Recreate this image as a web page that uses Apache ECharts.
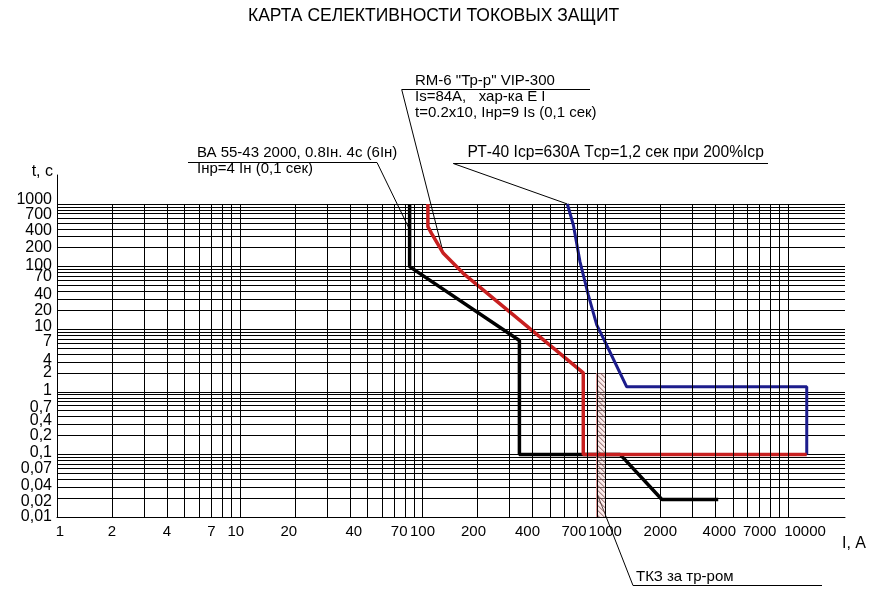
<!DOCTYPE html>
<html><head><meta charset="utf-8">
<script src="https://cdn.jsdelivr.net/npm/echarts@6/dist/echarts.min.js"></script>
<style>html,body{margin:0;padding:0;background:#fff}#c{width:887px;height:599px}</style>
</head><body><div id="c"></div>
<script>
// ---- grid / tick data ----
const gridMantissas = [1,2,3,4,5,6,7,8,9];
const currentDecades = [1,10,100,1000];
const timeDecades = [0.01,0.1,1,10,100];
const currentLabels = [1,2,4,7,10,20,40,70,100,200,400,700,1000,2000,4000,7000,10000];
const timeLabels = [0.01,0.02,0.04,0.07,0.1,0.2,0.4,0.7,1,2,4,7,10,20,40,70,100,200,400,700,1000];

// ---- curves (I, A ; t, s) ----
const vaCurrent = [85,85,339,339,1205,2040,4150];
const vaTime    = [1000,100,6.6,0.1,0.1,0.019,0.019];
const rmCurrent = [107,107,112,130,167,758,758,12660];
const rmTime    = [1000,434,340,163,78,2,0.1,0.1];
const rtCurrent = [620,669,727,808,898,997,1310,12660,12660];
const rtTime    = [1000,462,120,35,11.7,6.3,1.2,1.2,0.1];
const tkzCurrent = [900,1000];
const tkzTime    = [0.01,2];

// ---- styling ----
const FONT = '"Liberation Sans", Arial, sans-serif';
// label nudges in px (hand-placed labels in the original drawing)
const nudgeX = {1:3, 10:-4, 20:-6, 40:4, 70:5, 200:-4, 400:-5, 700:-3, 4000:4, 10000:17};
const nudgeY = {1000:-4, 700:1, 400:2, 100:-1, 40:3, 10:-3, 7:3, 4:6, 1:-1, 0.7:6, 0.4:4, 0.1:-2, 0.07:4, 0.04:6, 0.02:3};

const xGrid = []; currentDecades.forEach(d => gridMantissas.forEach(m => xGrid.push(+(d*m).toPrecision(6)))); xGrid.push(10000);
const yGrid = []; timeDecades.forEach(d => gridMantissas.forEach(m => yGrid.push(+(d*m).toPrecision(6)))); yGrid.push(1000);
const zip = (a,b) => a.map((v,i) => [v,b[i]]);

const richX = {}, richY = {};
currentLabels.forEach((v,i) => {
  const d = nudgeX[v] || 0;
  richX['x'+i] = {fontSize: 15, lineHeight: 15, color: '#000', fontFamily: FONT, padding: [0,-d,0,d]};
});
timeLabels.forEach((v,i) => {
  const d = nudgeY[v] || 0;
  richY['y'+i] = {fontSize: 16, lineHeight: 14, color: '#000', fontFamily: FONT, padding: [d,0,-d,0]};
});
const fmtX = v => { const i = currentLabels.findIndex(c => Math.abs(c - v) < 1e-9 * c); return '{x'+i+'|'+v+'}'; };
const fmtY = v => { const i = timeLabels.findIndex(c => Math.abs(c - v) < 1e-9 * c); return '{y'+i+'|'+String(v).replace('.', ',')+'}'; };
// labels are split over two overlaid axes (even / odd) so close neighbours are never auto-hidden
const evenOdd = (arr, p) => arr.filter((v,i) => i % 2 === p);

const X_RANGE = {min: 1, max: 20500};
const Y_RANGE = {min: 0.01, max: 2905};
const xLabelStyle = vals => ({customValues: vals, hideOverlap: false, showMinLabel: true, showMaxLabel: true,
  fontSize: 15, color: '#000', margin: 7, formatter: fmtX, rich: richX, fontFamily: FONT});
const yLabelStyle = vals => ({customValues: vals, hideOverlap: false, showMinLabel: true, showMaxLabel: true,
  fontSize: 16, color: '#000', margin: 5, formatter: fmtY, rich: richY, fontFamily: FONT});

const chart = echarts.init(document.getElementById('c'));
chart.setOption({
  animation: false,
  backgroundColor: '#fff',
  textStyle: {fontFamily: FONT},
  title: {text: 'КАРТА СЕЛЕКТИВНОСТИ ТОКОВЫХ ЗАЩИТ', left: 243, top: 2,
    textStyle: {fontSize: 17.5, fontWeight: 'normal', color: '#000', fontFamily: FONT}},
  grid: {left: 57, right: 42, top: 175, bottom: 82},
  xAxis: [{
    type: 'log', logBase: 10, min: X_RANGE.min, max: X_RANGE.max, position: 'bottom',
    name: 'I, A', nameLocation: 'end', nameGap: -3,
    nameTextStyle: {fontSize: 16, color: '#000', align: 'left', verticalAlign: 'top', padding: [19,0,0,0], fontFamily: FONT},
    axisLine: {show: true, lineStyle: {color: '#000', width: 1}},
    axisTick: {show: false}, minorTick: {show: false},
    axisLabel: xLabelStyle(evenOdd(currentLabels, 0)),
    splitLine: {show: false}
  }, {
    type: 'log', logBase: 10, min: X_RANGE.min, max: X_RANGE.max, position: 'bottom', offset: 0,
    axisLine: {show: false}, axisTick: {show: false}, minorTick: {show: false},
    axisLabel: xLabelStyle(evenOdd(currentLabels, 1)),
    splitLine: {show: false}
  }],
  yAxis: [{
    type: 'log', logBase: 10, min: Y_RANGE.min, max: Y_RANGE.max, position: 'left',
    name: 't, с', nameLocation: 'end', nameGap: 3,
    nameTextStyle: {fontSize: 16, color: '#000', align: 'right', verticalAlign: 'middle', padding: [0,4,0,0], fontFamily: FONT},
    axisLine: {show: true, lineStyle: {color: '#000', width: 1}},
    axisTick: {show: false, customValues: yGrid}, minorTick: {show: false},
    axisLabel: yLabelStyle(evenOdd(timeLabels, 0)),
    splitLine: {show: true, lineStyle: {color: '#000', width: 1}}
  }, {
    type: 'log', logBase: 10, min: Y_RANGE.min, max: Y_RANGE.max, position: 'left', offset: 0,
    axisLine: {show: false}, axisTick: {show: false}, minorTick: {show: false},
    axisLabel: yLabelStyle(evenOdd(timeLabels, 1)),
    splitLine: {show: false}
  }],
  series: [
    {
      type: 'line', data: [], z: 1, silent: true,
      markLine: {
        silent: true, symbol: ['none','none'], label: {show: false}, emphasis: {disabled: true},
        lineStyle: {color: '#000', width: 1, type: 'solid'},
        data: xGrid.map(v => [{coord: [v, 0.01]}, {coord: [v, 1000]}])
      }
    },
    {
      type: 'custom', z: 2, silent: true,
      data: [[tkzCurrent[0], tkzCurrent[1], tkzTime[0], tkzTime[1]]],
      encode: {x: [0,1], y: [2,3]},
      renderItem: function (params, api) {
        const a = api.coord([api.value(0), api.value(3)]);
        const b = api.coord([api.value(1), api.value(2)]);
        const x = a[0], y = a[1], w = b[0]-a[0], h = b[1]-a[1];
        const children = [{type: 'rect', shape: {x: x, y: y, width: w, height: h}, style: {fill: 'rgba(245,200,200,0.35)'}}];
        for (let k = -w; k < h; k += 5) {
          const s0 = Math.max(0, -k), s1 = Math.min(w, h - k);
          if (s1 <= s0) continue;
          children.push({type: 'line', shape: {x1: x+s0, y1: y+k+s0, x2: x+s1, y2: y+k+s1}, style: {stroke: '#6a3434', lineWidth: 0.8}});
        }
        children.push({type: 'line', shape: {x1: x, y1: y, x2: x, y2: y+h}, style: {stroke: '#e08888', lineWidth: 1.5}});
        return {type: 'group', children: children};
      }
    },
    {type: 'line', name: 'ВА 55-43', data: zip(vaCurrent, vaTime), symbol: 'none', z: 3,
     lineStyle: {color: '#000', width: 3.5}},
    {type: 'line', name: 'РТ-40', data: zip(rtCurrent, rtTime), symbol: 'none', z: 3,
     lineStyle: {color: '#1c1c8c', width: 3}},
    {type: 'line', name: 'RM-6', data: zip(rmCurrent, rmTime), symbol: 'none', z: 4,
     lineStyle: {color: '#c82020', width: 3.5}}
  ]
});

const px = p => chart.convertToPixel({gridIndex: 0}, p);
const T = (x, y, s, fs) => ({type: 'text', x: x, y: y, silent: true,
  style: {text: s, fontSize: fs || 15, fontFamily: FONT, fill: '#000', align: 'left', verticalAlign: 'middle'}});
const L = pts => ({type: 'polyline', silent: true, shape: {points: pts}, style: {stroke: '#000', lineWidth: 1, fill: null}});

chart.setOption({
  graphic: [
    L([[188,162.5],[377,162.5], px([85, 390])]),
    T(197, 153, 'ВА 55-43 2000, 0.8Iн. 4с (6Iн)'),
    T(197, 169, 'Iнр=4 Iн (0,1 сек)'),
    L([[590,89.5],[401.7,89.5], px([130, 163])]),
    T(415, 80.5, 'RM-6 "Тр-р" VIP-300'),
    T(415, 97, 'Is=84A,   хар-ка E I'),
    T(415, 113, 't=0.2x10, Iнр=9 Is (0,1 сек)'),
    L([[768,163.5],[453.3,163.5], px([620, 1000])]),
    T(467.5, 153, 'РТ-40 Iср=630A Tср=1,2 сек при 200%Iср', 15.6),
    L([px([905, 0.023]), [633,585.5], [822,585.5]]),
    T(636, 577, 'ТКЗ за тр-ром')
  ]
});
</script>
</body></html>
